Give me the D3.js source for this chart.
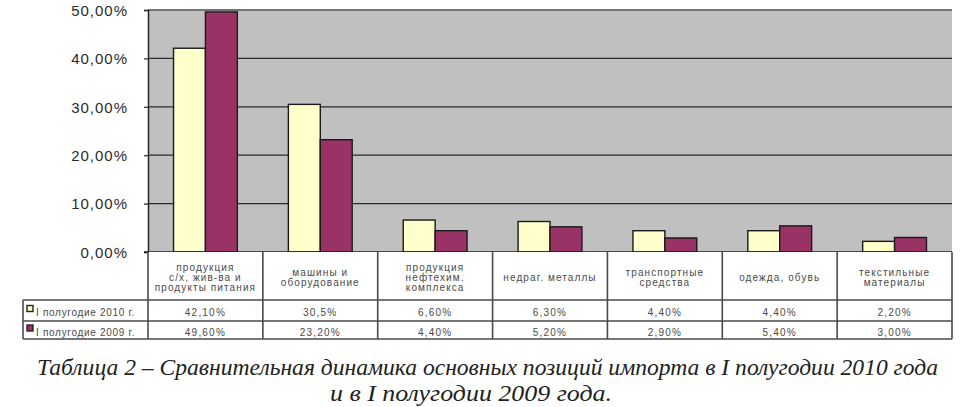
<!DOCTYPE html>
<html><head><meta charset="utf-8">
<script src="https://cdn.jsdelivr.net/npm/d3@7"></script>
<style>html,body{margin:0;padding:0;background:#fff;}svg{display:block;}</style>
</head><body>
<svg id="c" width="966" height="407"></svg>
<script>
const categories = [
  ["продукция", "с/х, жив-ва и", "продукты питания"],
  ["машины и", "оборудование"],
  ["продукция", "нефтехим.", "комплекса"],
  ["недраг. металлы"],
  ["транспортные", "средства"],
  ["одежда, обувь"],
  ["текстильные", "материалы"]
];
const seriesNames = ["I полугодие 2010  г.", "I полугодие 2009  г."];
const values2010 = [42.1, 30.5, 6.6, 6.3, 4.4, 4.4, 2.2];
const values2009 = [49.6, 23.2, 4.4, 5.2, 2.9, 5.4, 3.0];
const labels2010 = ["42,10%", "30,5%", "6,60%", "6,30%", "4,40%", "4,40%", "2,20%"];
const labels2009 = ["49,60%", "23,20%", "4,40%", "5,20%", "2,90%", "5,40%", "3,00%"];
const yTicks = [0, 10, 20, 30, 40, 50];
const captionLines = [
  "Таблица 2 – Сравнительная динамика основных позиций импорта в I полугодии 2010 года",
  "и в I полугодии 2009 года."
];

const colors = ["#ffffcc", "#993366"];
const series = [values2010, values2009];
const seriesLabels = [labels2010, labels2009];

const svg = d3.select("#c");
const L = 148, R = 952, Ttop = 9, B = 252;
const idx = d3.range(categories.length);
const x = d3.scaleBand().domain(idx).range([L, R]).paddingInner(0).paddingOuter(0);
const y = d3.scaleLinear().domain([0, 50]).range([B, 10]);
const xs = d3.scaleBand().domain([0, 1]).range([0, x.bandwidth()]).paddingOuter(0.8).paddingInner(0);

svg.append("rect").attr("x", L).attr("y", Ttop).attr("width", R - L).attr("height", B - Ttop).attr("fill", "#c0c0c0");

svg.append("g").selectAll("line").data(yTicks.filter(d => d > 0)).join("line")
  .attr("x1", L).attr("x2", R).attr("y1", d => y(d)).attr("y2", d => y(d))
  .attr("stroke", "#2a2a2a").attr("stroke-width", 1.2);

const yAxis = d3.axisLeft(y).tickValues(yTicks).tickSize(4).tickPadding(16)
  .tickFormat(d => d3.format(".2f")(d).replace(".", ",") + "%");
const ga = svg.append("g").attr("transform", `translate(${L},0)`).call(yAxis);
ga.select(".domain").attr("stroke", "#222").attr("stroke-width", 1.5);
ga.selectAll(".tick line").attr("stroke", "#222").attr("stroke-width", 1.2);
ga.selectAll("text").attr("font-family", "'Liberation Sans', Arial, sans-serif").attr("font-size", 15)
  .attr("letter-spacing", 1).attr("fill", "#2a2a2a").attr("dy", "0.35em");

series.forEach((vals, s) => {
  svg.append("g").selectAll("rect").data(vals).join("rect")
    .attr("x", (d, i) => x(i) + xs(s))
    .attr("y", d => y(d))
    .attr("width", xs.bandwidth())
    .attr("height", d => B - y(d))
    .attr("fill", colors[s])
    .attr("stroke", "#1a1a1a").attr("stroke-width", 1.4);
});

svg.append("line").attr("x1", L - 4).attr("x2", R).attr("y1", B).attr("y2", B).attr("stroke", "#222").attr("stroke-width", 1.5);

const rowTop = [252, 300, 321], rowBot = [300, 321, 339];
const tblLeft = 23;
const lineC = "#4a4a4a";
const tg = svg.append("g");
const font = "'Liberation Sans', Arial, sans-serif";
tg.append("rect").attr("x", L).attr("y", B).attr("width", R - L).attr("height", rowBot[0] - B).attr("fill", "#fff");
[rowTop[1], rowTop[2], rowBot[2]].forEach(yy => {
  tg.append("line").attr("x1", tblLeft).attr("x2", R).attr("y1", yy).attr("y2", yy).attr("stroke", lineC).attr("stroke-width", 1.6);
});
tg.append("line").attr("x1", tblLeft).attr("x2", tblLeft).attr("y1", rowTop[1]).attr("y2", rowBot[2]).attr("stroke", lineC).attr("stroke-width", 1.6);
tg.selectAll("line.v").data(d3.range(categories.length + 1)).join("line").attr("class", "v")
  .attr("x1", i => i < categories.length ? x(i) : R).attr("x2", i => i < categories.length ? x(i) : R)
  .attr("y1", B).attr("y2", rowBot[2]).attr("stroke", lineC).attr("stroke-width", 1.6);

categories.forEach((lines, i) => {
  const cx = x(i) + x.bandwidth() / 2;
  const cy = 277;
  const lh = 10;
  const t = tg.append("text").attr("text-anchor", "middle").attr("font-family", font).attr("font-size", 10)
    .attr("letter-spacing", 1.1).attr("fill", "#4a4a4a");
  lines.forEach((ln, k) => {
    t.append("tspan").attr("x", cx).attr("y", cy + (k - (lines.length - 1) / 2) * lh).attr("dy", "0.35em").text(ln);
  });
});

seriesLabels.forEach((labs, s) => {
  const cy = (rowTop[s + 1] + rowBot[s + 1]) / 2 + 2;
  tg.append("g").selectAll("text").data(labs).join("text")
    .attr("x", (d, i) => x(i) + x.bandwidth() / 2).attr("y", cy).attr("dy", "0.35em")
    .attr("text-anchor", "middle").attr("font-family", font).attr("font-size", 10).attr("letter-spacing", 1.2).attr("fill", "#4a4a4a")
    .text(d => d);
  tg.append("rect").attr("x", 27).attr("y", cy - 7).attr("width", 6).attr("height", 6)
    .attr("fill", colors[s]).attr("stroke", "#222").attr("stroke-width", 1.4);
  tg.append("text").attr("x", 36).attr("y", cy).attr("dy", "0.35em").attr("font-family", font)
    .attr("font-size", 10).attr("letter-spacing", 0.7).attr("fill", "#4a4a4a").text(seriesNames[s]);
});

const capFont = "'Liberation Serif', 'Times New Roman', serif";
svg.append("text").attr("x", 37).attr("y", 375).attr("font-family", capFont)
  .attr("font-style", "italic").attr("font-size", 24).attr("fill", "#222")
  .attr("textLength", 901).attr("lengthAdjust", "spacingAndGlyphs").text(captionLines[0]);
svg.append("text").attr("x", 330).attr("y", 401).attr("font-family", capFont)
  .attr("font-style", "italic").attr("font-size", 24).attr("fill", "#222")
  .attr("textLength", 282).attr("lengthAdjust", "spacingAndGlyphs").text(captionLines[1]);
</script>
</body></html>
